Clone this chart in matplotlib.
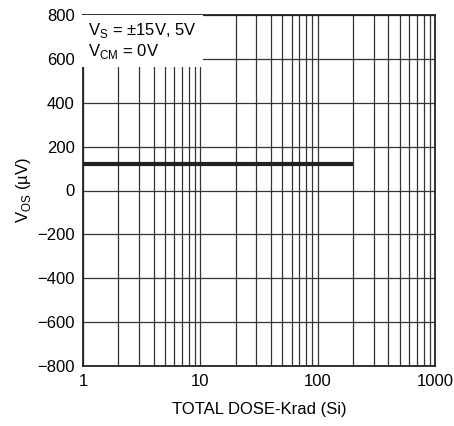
import numpy as np
import matplotlib
matplotlib.use("Agg")
import matplotlib.pyplot as plt
from matplotlib.ticker import LogLocator, NullFormatter, FixedLocator

plt.rcParams['font.family'] = ['Liberation Sans', 'DejaVu Sans']

# datos
dosis = [1, 200]
vos = [120, 120]
xticks = [1, 10, 100, 1000]
xlabels = ['1', '10', '100', '1000']
yticks = [-800, -600, -400, -200, 0, 200, 400, 600, 800]
ylabels = ['\u2212800', '\u2212600', '\u2212400', '\u2212200', '0', '200', '400', '600', '800']

fig = plt.figure(figsize=(4.54, 4.26), dpi=100)
ax = fig.add_axes([83 / 454, 60 / 426, 352 / 454, 351 / 426])

ax.set_xscale('log')
ax.set_xlim(1, 1000)
ax.set_ylim(-800, 800)

ax.xaxis.set_major_locator(FixedLocator(xticks))
ax.xaxis.set_minor_locator(LogLocator(base=10, subs=np.arange(2, 10)))
ax.xaxis.set_minor_formatter(NullFormatter())
ax.set_xticklabels(xlabels)
ax.set_yticks(yticks)
ax.set_yticklabels(ylabels)

ax.grid(True, which='both', axis='x', color='#333333', linewidth=0.9)
ax.grid(True, which='major', axis='y', color='#333333', linewidth=0.9)
ax.tick_params(which='both', length=0, labelsize=12, pad=6)
for s in ax.spines.values():
    s.set_linewidth(1.3)
    s.set_color('#222222')

ax.plot(dosis, vos, color='#222222', linewidth=3, solid_capstyle='butt', zorder=3)

ax.set_xlabel('TOTAL DOSE-Krad (Si)', fontsize=12, labelpad=9)
ax.set_ylabel(r'V$_{\mathregular{OS}}$ (µV)', fontsize=12, labelpad=3)

ax.text(0.015, 0.983, 'V$_{\\mathregular{S}}$ = \u00b115V, 5V\nV$_{\\mathregular{CM}}$ = 0V',
        transform=ax.transAxes, fontsize=12, va='top', ha='left', linespacing=1.15,
        bbox=dict(facecolor='white', edgecolor='none', boxstyle='square,pad=0.35'), zorder=4)

fig.savefig('out.png', dpi=100)
